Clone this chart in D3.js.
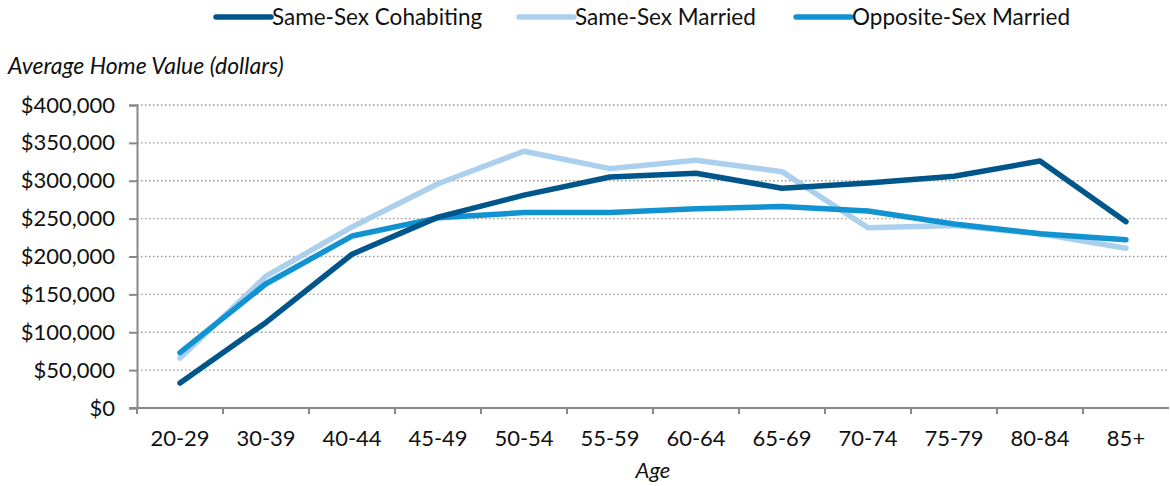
<!DOCTYPE html>
<html>
<head>
<meta charset="utf-8">
<script src="https://cdn.jsdelivr.net/npm/d3@7"></script>
<style>
  body { margin: 0; background: #fff; }
  svg { font-family: Lato, "Open Sans", sans-serif; }
</style>
</head>
<body>
<div id="chart"></div>
<script>
var ages = ["20-29", "30-39", "40-44", "45-49", "50-54", "55-59", "60-64", "65-69", "70-74", "75-79", "80-84", "85+"];
var sameSexCohabiting = [33000, 113000, 203000, 252000, 281000, 305000, 310000, 290000, 297000, 306000, 326000, 246000];
var sameSexMarried = [66000, 174000, 239000, 296000, 339000, 316000, 327000, 312000, 238000, 241000, 230000, 211000];
var oppositeSexMarried = [73000, 164000, 227000, 251000, 258000, 258000, 263000, 266000, 260000, 243000, 230000, 222000];
var yTicks = [0, 50000, 100000, 150000, 200000, 250000, 300000, 350000, 400000];

var series = [
  { name: "Same-Sex Cohabiting", values: sameSexCohabiting, color: "#00568b" },
  { name: "Same-Sex Married", values: sameSexMarried, color: "#abd0ee" },
  { name: "Opposite-Sex Married", values: oppositeSexMarried, color: "#1193d1" }
];
// draw order: light first so darker lines sit on top
var drawOrder = [series[1], series[2], series[0]];

var width = 1170, height = 486;
var margin = { left: 137, right: 1, top: 105, bottom: 78 };

var svg = d3.select("#chart").append("svg")
  .attr("width", width)
  .attr("height", height);

var x = d3.scaleBand().domain(ages).range([margin.left, width - margin.right]);
var y = d3.scaleLinear().domain([0, 400000]).range([height - margin.bottom, margin.top]);

// dotted grid
svg.append("g")
  .selectAll("line")
  .data(yTicks.filter(function(d) { return d > 0; }))
  .enter().append("line")
    .attr("x1", margin.left)
    .attr("x2", width - margin.right)
    .attr("y1", function(d) { return y(d); })
    .attr("y2", function(d) { return y(d); })
    .attr("stroke", "#999")
    .attr("stroke-width", 1.3)
    .attr("stroke-dasharray", "1.5,2.5");

// y axis
var yAxis = svg.append("g")
  .attr("transform", "translate(" + margin.left + ",0)")
  .call(d3.axisLeft(y).tickValues(yTicks).tickSize(8).tickPadding(14)
    .tickFormat(function(d) { return "$" + d3.format(",")(d); }));
yAxis.select(".domain").attr("stroke", "#888").attr("stroke-width", 2);
yAxis.selectAll(".tick line").attr("stroke", "#888").attr("stroke-width", 2);
yAxis.selectAll("text").attr("font-size", 22).attr("fill", "#111").style("font-family", "Lato");

// x axis with ticks between categories
var xAxisG = svg.append("g")
  .attr("transform", "translate(0," + y(0) + ")");
xAxisG.append("line")
  .attr("x1", margin.left - 8).attr("x2", width - margin.right)
  .attr("stroke", "#888").attr("stroke-width", 2);
xAxisG.selectAll(".sep")
  .data(ages)
  .enter().append("line")
    .attr("x1", function(d) { return x(d); })
    .attr("x2", function(d) { return x(d); })
    .attr("y1", 0).attr("y2", 6)
    .attr("stroke", "#888").attr("stroke-width", 2);
xAxisG.selectAll(".lbl")
  .data(ages)
  .enter().append("text")
    .attr("x", function(d) { return x(d) + x.bandwidth() / 2; })
    .attr("y", 38)
    .attr("text-anchor", "middle")
    .attr("font-size", 22)
    .attr("fill", "#111")
    .text(function(d) { return d; });

// lines
var line = d3.line()
  .x(function(d, i) { return x(ages[i]) + x.bandwidth() / 2; })
  .y(function(d) { return y(d); });

svg.append("g")
  .selectAll("path")
  .data(drawOrder)
  .enter().append("path")
    .attr("d", function(s) { return line(s.values); })
    .attr("fill", "none")
    .attr("stroke", function(s) { return s.color; })
    .attr("stroke-width", 5.5)
    .attr("stroke-linecap", "round")
    .attr("stroke-linejoin", "round");

// axis titles
svg.append("text")
  .attr("x", 8).attr("y", 74)
  .attr("font-size", 23)
  .attr("font-style", "italic")
  .attr("fill", "#111")
  .text("Average Home Value (dollars)");

svg.append("text")
  .attr("x", (margin.left + width - margin.right) / 2).attr("y", 478)
  .attr("text-anchor", "middle")
  .attr("font-size", 22)
  .attr("font-style", "italic")
  .attr("fill", "#111")
  .text("Age");

// legend
var legendX = [213, 516, 793];
var legend = svg.append("g")
  .selectAll("g")
  .data(series)
  .enter().append("g")
    .attr("transform", function(d, i) { return "translate(" + legendX[i] + ",17)"; });
legend.append("line")
  .attr("x1", 3).attr("x2", 58)
  .attr("stroke", function(d) { return d.color; })
  .attr("stroke-width", 5.5)
  .attr("stroke-linecap", "round");
legend.append("text")
  .attr("x", 59).attr("y", 8)
  .attr("font-size", 22.5)
  .attr("fill", "#111")
  .text(function(d) { return d.name; });
</script>
</body>
</html>
